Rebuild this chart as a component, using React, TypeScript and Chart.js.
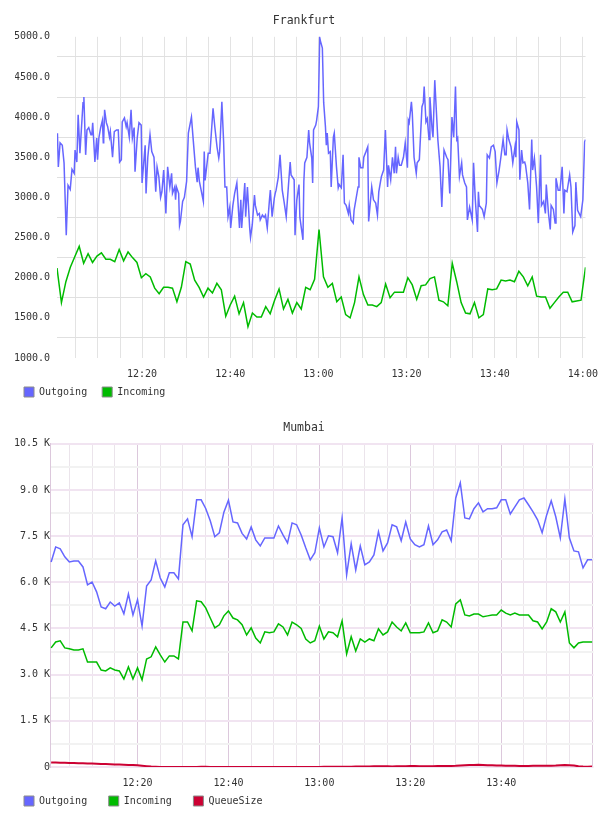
import React, { useEffect, useRef } from 'react';
import { Chart, registerables } from 'chart.js';

Chart.register(...registerables);

// ---------- data ----------
// Frankfurt Outgoing: [minutes after 12:00, value]
const FRA_OUT: [number, number][] = [
  [0.8,3800],[1.0,3380],[1.4,3680],[1.9,3650],[2.3,3430],[2.8,2530],[3.2,3150],[3.7,3100],[4.1,3350],[4.6,3300],
  [4.8,3590],[5.2,3440],[5.5,4030],[5.9,3550],[6.6,4180],[6.8,4250],[7.2,3530],[7.5,3840],[7.9,3870],[8.4,3780],
  [8.6,3780],[8.8,3930],[9.3,3440],[9.7,3740],[9.9,3470],[10.2,3740],[10.6,3870],[11.0,3960],[11.2,3680],[11.3,3720],
  [11.5,4090],[11.9,3930],[12.2,3880],[12.6,3750],[12.8,3820],[13.3,3500],[13.7,3820],[14.2,3840],[14.6,3840],[14.9,3440],
  [15.3,3470],[15.5,3940],[16.0,3990],[16.4,3880],[16.6,3930],[17.1,3750],[17.5,4090],[17.8,3740],[18.2,3870],[18.4,3320],
  [18.9,3740],[19.3,3930],[19.8,3900],[20.0,3180],[20.7,3650],[20.9,3050],[21.3,3500],[21.8,3780],[22.2,3570],[22.7,3500],
  [23.1,3070],[23.4,3380],[23.8,3260],[24.2,3000],[24.5,3070],[24.9,3340],[25.4,2800],[25.8,3380],[26.3,3130],[26.7,3300],
  [26.9,3050],[27.4,3130],[27.6,2970],[27.8,3130],[28.3,3050],[28.5,2650],[28.7,2700],[29.2,2950],[29.6,3000],[30.1,3200],
  [30.5,3800],[31.2,4000],[31.6,3720],[32.1,3380],[32.5,3190],[32.7,3370],[33.0,3200],[33.4,3090],[33.9,2950],[34.1,3570],
  [34.3,3210],[35.0,3550],[35.4,3550],[36.1,4110],[36.5,3880],[37.0,3630],[37.4,3490],[37.6,3570],[38.1,4190],[38.5,3690],
  [38.8,3130],[39.2,3130],[39.5,2760],[39.9,2880],[40.1,2620],[40.6,2900],[41.0,3050],[41.5,3180],[42.1,2620],[42.4,2970],
  [42.6,2620],[43.3,3180],[43.5,2760],[43.9,3130],[44.4,2630],[44.6,2500],[45.0,2660],[45.5,3030],[45.7,2900],[46.2,2780],
  [46.6,2800],[46.8,2720],[47.3,2780],[47.7,2750],[48.0,2780],[48.4,2620],[48.9,2970],[49.1,3090],[49.5,2760],[50.0,2990],
  [50.2,3050],[50.4,3090],[50.9,3250],[51.3,3530],[51.8,3090],[52.2,2950],[52.7,2760],[53.3,3220],[53.6,3440],[53.8,3280],
  [54.5,3220],[54.7,2530],[55.1,2970],[55.6,3160],[55.8,2750],[56.5,2470],[56.7,3200],[56.9,3430],[57.4,3500],[57.8,3840],
  [58.0,3680],[58.5,3490],[58.7,3180],[58.9,3840],[59.4,3900],[59.6,3960],[60.0,4130],[60.3,4990],[60.5,4940],[60.9,4860],
  [61.2,4180],[61.6,3880],[61.8,3650],[62.0,3800],[62.3,3550],[62.7,3570],[62.9,3130],[63.4,3750],[63.6,3800],[64.1,3380],
  [64.5,3120],[64.7,3160],[65.2,3120],[65.6,3530],[65.9,2930],[66.3,2900],[66.8,2800],[67.0,2900],[67.4,2720],[67.9,2680],
  [68.1,2840],[68.5,2970],[69.0,3130],[69.2,3500],[69.6,3370],[70.1,3370],[70.3,3500],[70.8,3570],[71.2,3630],[71.4,2700],
  [72.1,3130],[72.5,2970],[73.0,2930],[73.4,2780],[73.7,3070],[74.1,3200],[74.3,3260],[74.8,3340],[75.2,3840],[75.7,3130],
  [75.9,3400],[76.4,3220],[76.8,3500],[77.2,3300],[77.5,3630],[77.7,3300],[78.1,3500],[78.4,3400],[78.8,3400],[79.3,3500],
  [79.7,3680],[80.2,3370],[80.4,3960],[80.6,3930],[81.1,4190],[81.3,4050],[81.7,3500],[82.2,3300],[82.4,3430],[82.9,3470],
  [83.5,4130],[83.8,4180],[84.0,4380],[84.4,3940],[84.7,3980],[85.1,3720],[85.3,4250],[85.8,3840],[86.0,3750],[86.4,4460],
  [86.9,3930],[87.1,3720],[87.6,3380],[88.0,2880],[88.5,3590],[89.1,3500],[89.4,3470],[89.8,3050],[90.3,4000],[90.7,3750],
  [91.1,4380],[91.4,3720],[91.6,3740],[92.0,3260],[92.5,3430],[92.7,3280],[93.2,3180],[93.6,3130],[93.8,2720],[94.3,2880],
  [94.9,2720],[95.2,3430],[95.6,2970],[96.1,2570],[96.3,3070],[96.5,2900],[97.2,2850],[97.6,2760],[98.1,2930],[98.3,3530],
  [98.8,3490],[99.2,3630],[99.7,3650],[100.1,3570],[100.5,3180],[101.0,3340],[101.4,3500],[101.9,3720],[102.3,3530],[102.6,3530],
  [102.8,3840],[103.2,3720],[103.7,3630],[104.1,3430],[104.6,3630],[104.8,3500],[105.0,3940],[105.5,3840],[105.7,3220],[106.1,3590],
  [106.4,3430],[106.8,3440],[107.0,3400],[107.5,3180],[107.9,2850],[108.4,3720],[108.6,3340],[109.0,3490],[109.5,3130],[109.9,2680],
  [110.4,3530],[110.6,2900],[111.1,2950],[111.5,2800],[111.7,3160],[112.2,2800],[112.6,2600],[112.8,2900],[113.3,2850],[113.7,2680],
  [113.9,3240],[114.4,3090],[114.8,3090],[115.3,3380],[115.7,2800],[115.9,3090],[116.4,3070],[117.0,3280],[117.3,3130],[117.7,2570],
  [118.2,2650],[118.4,3190],[118.8,2840],[119.5,2760],[120.0,2970],[120.4,3690],[120.6,3720],
];

// Frankfurt Incoming: one sample per interval
const FRA_IN_START = 0.7;
const FRA_IN_STEP = 1.0075;
const FRA_IN = [
  2120,1690,1950,2130,2260,2390,2180,2300,2190,2270,
  2310,2230,2230,2200,2350,2210,2320,2250,2190,2000,
  2050,2010,1870,1800,1880,1880,1870,1700,1880,2200,
  2170,1970,1880,1760,1870,1810,1930,1850,1520,1660,
  1770,1550,1690,1390,1560,1510,1510,1640,1550,1720,
  1860,1610,1730,1560,1690,1610,1880,1850,1980,2600,
  2010,1880,1930,1700,1760,1540,1500,1690,2010,1790,
  1660,1660,1640,1690,1920,1750,1820,1820,1820,2000,
  1910,1730,1900,1910,1990,2010,1720,1700,1650,2180,
  1950,1690,1560,1550,1690,1500,1540,1860,1850,1860,
  1970,1960,1970,1950,2080,2010,1900,2010,1770,1760,
  1760,1620,1690,1760,1820,1820,1700,1710,1720,2130,
];

// Mumbai: one sample per minute
const MUM_START = 1.0;
const MUM_STEP = 1.0;
const MUM_OUT = [
  6660,7150,7090,6830,6660,6690,6690,6500,5920,6010,
  5690,5200,5140,5360,5230,5330,4980,5620,4940,5430,
  4580,5880,6080,6700,6140,5850,6310,6310,6110,7870,
  8060,7480,8680,8680,8400,8000,7480,7610,8280,8670,
  7960,7930,7590,7410,7800,7380,7180,7440,7440,7440,
  7830,7540,7280,7930,7870,7540,7120,6730,6960,7770,
  7150,7510,7480,6960,8090,6240,7250,6400,7180,6570,
  6660,6890,7640,7020,7280,7870,7800,7350,7960,7410,
  7220,7150,7220,7830,7220,7380,7640,7700,7350,8740,
  9230,8090,8060,8390,8580,8290,8390,8390,8420,8680,
  8680,8220,8450,8680,8740,8520,8290,8030,7610,8190,
  8650,8130,7440,8710,7440,7020,6990,6470,6730,6730,
];
const MUM_IN = [
  3870,4060,4100,3870,3840,3800,3800,3840,3410,3410,
  3410,3150,3120,3220,3150,3120,2860,3250,2860,3220,
  2830,3510,3580,3900,3640,3410,3610,3610,3510,4710,
  4710,4420,5400,5370,5170,4840,4520,4620,4910,5070,
  4840,4780,4620,4290,4520,4190,4030,4390,4360,4390,
  4650,4550,4290,4710,4620,4500,4160,4030,4100,4580,
  4160,4390,4360,4230,4750,3670,4230,3770,4160,4060,
  4160,4100,4490,4290,4390,4710,4550,4420,4680,4360,
  4360,4360,4390,4680,4360,4420,4780,4710,4550,5300,
  5430,4940,4910,4970,4970,4880,4910,4940,4940,5100,
  5000,4940,5000,4940,4940,4940,4750,4710,4490,4710,
  5140,5040,4710,5040,4030,3870,4030,4060,4060,4060,
];
const MUM_QUEUE = [
  150,146,141,137,132,128,124,119,114,110,
  105,100,95,90,85,80,74,68,62,55,
  42,28,15,6,0,0,0,0,0,0,
  0,2,4,5,5,4,2,0,0,0,
  0,0,0,2,3,3,2,0,0,0,
  0,0,0,0,0,2,3,2,0,0,
  5,8,10,12,10,8,10,15,18,20,
  20,22,25,25,22,20,22,25,28,30,
  30,28,25,25,28,30,30,32,35,40,
  50,60,65,68,70,65,60,55,50,45,
  40,40,38,35,35,35,38,40,40,38,
  40,45,55,65,60,45,25,15,10,20,
];

// axes
const X_TICKS = [5,10,15,20,25,30,35,40,45,50,55,60,65,70,75,80,85,90,95,100,105,110,115,120];
const FRA_X_LABELED = [20,40,60,80,100,120];
const MUM_X_LABELED = [20,40,60,80,100];
const FRA_Y_TICKS = [1000,1250,1500,1750,2000,2250,2500,2750,3000,3250,3500,3750,4000,4250,4500,4750,5000];
const FRA_Y_LABELED = [1000,1500,2000,2500,3000,3500,4000,4500,5000];
const MUM_Y_TICKS = [0,750,1500,2250,3000,3750,4500,5250,6000,6750,7500,8250,9000,9750,10500];
const MUM_Y_LABELED = [0,1500,3000,4500,6000,7500,9000,10500];

const BLUE = '#6666ff';
const GREEN = '#00bb00';
const RED = '#cc0033';
const FONT = '"DejaVu Sans Mono", "Liberation Mono", monospace';
const TEXT = '#333333';

const fmtTime = (m: number) => `${12 + Math.floor(m / 60)}:${String(m % 60).padStart(2, '0')}`;
const fmtK = (v: number) => (v === 0 ? '0' : `${(v / 1000).toFixed(1)} K`);

const legendLabels = (pad: string) => (chart: any) =>
  chart.data.datasets.map((ds: any, i: number) => ({
    text: ds.label + pad,
    fillStyle: ds.borderColor,
    strokeStyle: '#8c8c8c',
    lineWidth: 1,
    hidden: false,
    datasetIndex: i,
    fontColor: TEXT,
  }));

const line = (label: string, color: string, data: any[], width = 1.5) => ({
  label,
  data,
  borderColor: color,
  backgroundColor: color,
  borderWidth: width,
  pointRadius: 0,
  pointHoverRadius: 0,
  tension: 0,
  fill: false,
});

const TITLE_PADDING = { top: 11.5, bottom: 8.5 };

function frankfurtConfig(): any {
  return {
    type: 'line',
    data: {
      datasets: [
        line('Outgoing', BLUE, FRA_OUT.map(([x, y]) => ({ x, y }))),
        line('Incoming', GREEN, FRA_IN.map((y, i) => ({ x: FRA_IN_START + i * FRA_IN_STEP, y }))),
      ],
    },
    options: {
      animation: false,
      responsive: false,
      events: [],
      layout: { padding: { top: 3, left: 15, right: 15, bottom: 0 } },
      scales: {
        x: {
          type: 'linear',
          min: 0.7,
          max: 120.6,
          afterBuildTicks: (s: any) => { s.ticks = X_TICKS.map((v) => ({ value: v })); },
          afterFit: (s: any) => { s.height = 20; },
          grid: { color: '#e3e3e3', lineWidth: 1, drawTicks: false },
          border: { display: false },
          ticks: {
            autoSkip: false, maxRotation: 0, minRotation: 0, padding: 10,
            color: TEXT, font: { family: FONT, size: 10 },
            callback: (v: number) => (FRA_X_LABELED.includes(v) ? fmtTime(v) : ''),
          },
        },
        y: {
          type: 'linear',
          min: 1000,
          max: 5000,
          afterBuildTicks: (s: any) => { s.ticks = FRA_Y_TICKS.map((v) => ({ value: v })); },
          afterFit: (s: any) => { s.width = 42; },
          grid: {
            drawTicks: false,
            lineWidth: 1,
            color: (c: any) => (c.tick && FRA_Y_LABELED.includes(c.tick.value) ? 'rgba(0,0,0,0)' : '#e0e0e0'),
          },
          border: { display: false },
          ticks: {
            autoSkip: false, padding: 7,
            color: TEXT, font: { family: FONT, size: 10 },
            callback: (v: number) => (FRA_Y_LABELED.includes(v) ? v.toFixed(1) : ''),
          },
        },
      },
      plugins: {
        title: {
          display: true, text: 'Frankfurt', color: TEXT,
          font: { family: FONT, size: 11.5, weight: 'normal' },
          padding: TITLE_PADDING,
        },
        legend: {
          position: 'bottom', align: 'start',
          labels: {
            boxWidth: 10, boxHeight: 10, padding: 9, color: TEXT,
            font: { family: FONT, size: 10 },
            generateLabels: legendLabels(' '),
          },
        },
        tooltip: { enabled: false },
      },
    },
  };
}

function mumbaiConfig(): any {
  const xs = (i: number) => MUM_START + i * MUM_STEP;
  return {
    type: 'line',
    data: {
      datasets: [
        line('Outgoing', BLUE, MUM_OUT.map((y, i) => ({ x: xs(i), y }))),
        line('Incoming', GREEN, MUM_IN.map((y, i) => ({ x: xs(i), y }))),
        line('QueueSize', RED, MUM_QUEUE.map((y, i) => ({ x: xs(i), y })), 2),
      ],
    },
    options: {
      animation: false,
      responsive: false,
      events: [],
      layout: { padding: { top: 3, left: 14.5, right: 14.5, bottom: 0 } },
      scales: {
        x: {
          type: 'linear',
          min: 0.75,
          max: 120.3,
          afterBuildTicks: (s: any) => { s.ticks = X_TICKS.map((v) => ({ value: v })); },
          afterFit: (s: any) => { s.height = 19.5; },
          grid: {
            drawTicks: false, lineWidth: 1,
            color: (c: any) => (c.tick && c.tick.value % 20 === 0 ? '#dcc8dc' : '#ebe4eb'),
          },
          border: { display: false },
          ticks: {
            autoSkip: false, maxRotation: 0, minRotation: 0, padding: 10,
            color: TEXT, font: { family: FONT, size: 10 },
            callback: (v: number) => (MUM_X_LABELED.includes(v) ? fmtTime(v) : ''),
          },
        },
        y: {
          type: 'linear',
          min: 0,
          max: 10500,
          afterBuildTicks: (s: any) => { s.ticks = MUM_Y_TICKS.map((v) => ({ value: v })); },
          afterFit: (s: any) => { s.width = 35.5; },
          grid: {
            drawTicks: false, lineWidth: 2,
            color: (c: any) => (c.tick && MUM_Y_LABELED.includes(c.tick.value) ? '#f1e4f1' : '#f2f2f2'),
          },
          border: { display: true, color: '#dcc8dc', width: 1 },
          ticks: {
            autoSkip: false, padding: 0,
            color: TEXT, font: { family: FONT, size: 10 },
            callback: (v: number) => (MUM_Y_LABELED.includes(v) ? fmtK(v) : ''),
          },
        },
      },
      plugins: {
        title: {
          display: true, text: 'Mumbai', color: TEXT,
          font: { family: FONT, size: 11.5, weight: 'normal' },
          padding: TITLE_PADDING,
        },
        legend: {
          position: 'bottom', align: 'start',
          labels: {
            boxWidth: 10, boxHeight: 10, padding: 9.5, color: TEXT,
            font: { family: FONT, size: 10 },
            generateLabels: legendLabels('  '),
          },
        },
        tooltip: { enabled: false },
      },
    },
  };
}

export default function App() {
  const topRef = useRef<HTMLCanvasElement | null>(null);
  const bottomRef = useRef<HTMLCanvasElement | null>(null);

  useEffect(() => {
    const charts: Chart[] = [];
    if (topRef.current) charts.push(new Chart(topRef.current, frankfurtConfig()));
    if (bottomRef.current) charts.push(new Chart(bottomRef.current, mumbaiConfig()));
    return () => charts.forEach((c) => c.destroy());
  }, []);

  return (
    <div style={{ position: 'absolute', left: 0, top: 0, width: 608, height: 816, background: '#ffffff' }}>
      <canvas ref={topRef} width={608} height={407} style={{ display: 'block', width: 608, height: 407 }} />
      <canvas ref={bottomRef} width={608} height={409} style={{ display: 'block', width: 608, height: 409 }} />
    </div>
  );
}
